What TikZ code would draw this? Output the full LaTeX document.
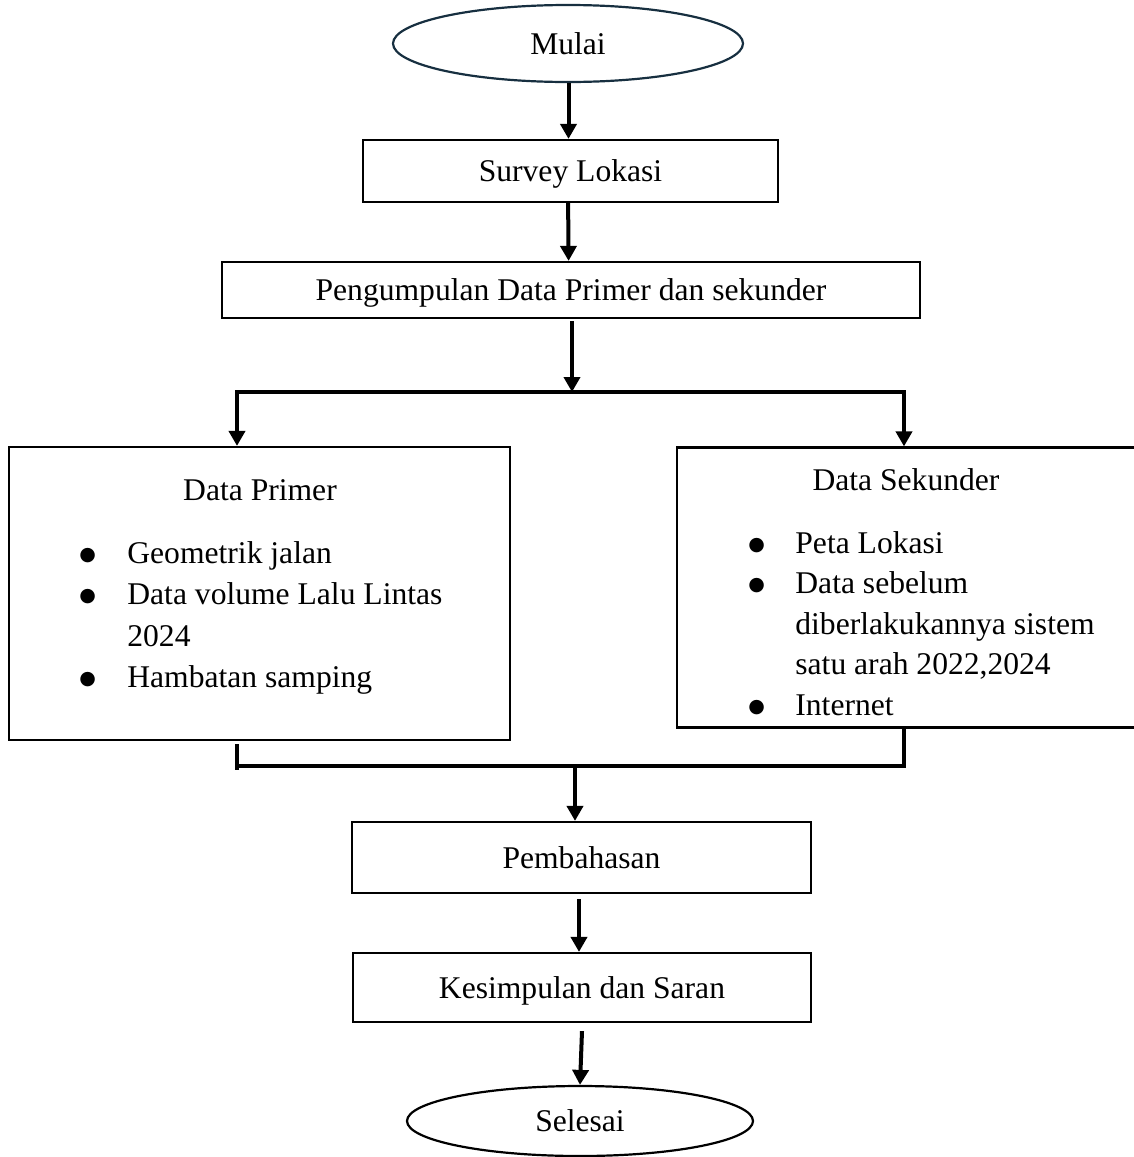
\documentclass[tikz,border=0pt]{standalone}
\usepackage{fontspec}
\setmainfont{Liberation Serif}
\newfontfamily\bulletfont{DejaVu Sans}
\usetikzlibrary{positioning,shapes,arrows.meta,calc}
\tikzstyle{process}=[rectangle, draw=black, line width=1.1pt, text centered, inner sep=0pt]
\tikzstyle{terminal}=[ellipse, draw=black, line width=1.1pt, inner sep=0pt]
\tikzstyle{boxtitle}=[inner sep=0pt, anchor=base]
\tikzstyle{itemlist}=[inner sep=0pt, anchor=base west]
\tikzstyle{myarrow}=[-{Triangle[width=8pt,length=7.5pt]}, line width=2pt]
\tikzstyle{myline}=[line width=2pt]
\definecolor{mulaiblue}{RGB}{23,47,64}
\newcommand{\listbullet}{\raisebox{1.5pt}{\bulletfont\fontsize{9.5}{11}\selectfont ●}}

\begin{document}
\begin{tikzpicture}[x=0.5pt, y=-0.5pt, font=\fontsize{15.8}{20.75}\selectfont]

        \useasboundingbox (0,0) rectangle (1134,1157);
        \clip (0,0) rectangle (1134,1157);

        \node (mulai) [terminal, draw=mulaiblue, minimum width=175pt, minimum height=38.5pt] at (568,43.5) {Mulai};
        \node (survey) [process, minimum width=207.5pt, minimum height=31pt, text depth=0pt] at (570.5,171) {Survey Lokasi};
        \node (pengumpulan) [process, minimum width=349pt, minimum height=28pt, text depth=0pt] at (571,290) {Pengumpulan Data Primer dan sekunder};

        % Data Primer
        \node (primer) [process, minimum width=250.5pt, minimum height=146.5pt] at (259.5,593.5) {};
        \node (primer_title) [boxtitle] at (260,500) {Data Primer};
        \node (primer_list) [itemlist] at (79,563) {\begin{tabular}[t]{@{}p{24pt}@{}l@{}}
            \listbullet & Geometrik jalan\\
            \listbullet & Data volume Lalu Lintas\\
                        & 2024\\
            \listbullet & Hambatan samping
        \end{tabular}};

        % Data Sekunder
        \node (sekunder) [process, minimum width=234pt, minimum height=140pt] at (911,587.5) {};
        \node (sekunder_title) [boxtitle] at (906,490) {Data Sekunder};
        \node (sekunder_list) [itemlist] at (748,553) {\fontsize{15.8}{20.3}\selectfont\begin{tabular}[t]{@{}p{23.5pt}@{}l@{}}
            \listbullet & Peta Lokasi\\
            \listbullet & Data sebelum\\
                        & diberlakukannya sistem\\
                        & satu arah 2022,2024\\
            \listbullet & Internet
        \end{tabular}};

        \node (pembahasan) [process, minimum width=229.5pt, minimum height=35.5pt, text depth=0pt] at (581.5,857.5) {Pembahasan};
        \node (kesimpulan) [process, minimum width=229pt, minimum height=34.5pt, text depth=0pt] at (582,987.5) {Kesimpulan dan Saran};
        \node (selesai) [terminal, minimum width=173pt, minimum height=35pt] at (580,1121) {Selesai};

        % split and join points
        \coordinate (split) at (572,392);
        \coordinate (split_l) at (237,392);
        \coordinate (split_r) at (904,392);
        \coordinate (join) at (575,766);
        \coordinate (join_l) at (237,766);
        \coordinate (join_r) at (904,766);

        %Arrows
        \draw[myarrow] (mulai.south -| survey.north) ++(-2,0) coordinate (m1) -- (m1 |- survey.north);
        \draw[myarrow] ([xshift=-1.2pt]survey.south) -- ([xshift=-1.2pt]pengumpulan.north);
        \draw[myarrow] ([yshift=-1pt]pengumpulan.south -| split) -- (split);

        \draw[myline, line cap=rect] (split_l) -- (split_r);
        \draw[myarrow] (split_l) -- (split_l |- primer.north);
        \draw[myarrow] (split_r) -- (split_r |- sekunder.north);

        %join Arrows
        \draw[myline] ([yshift=-1.5pt]primer.south -| join_l) -- ([yshift=-2pt]join_l);
        \draw[myline] (sekunder.south -| join_r) -- (join_r) -- (join_l);
        \draw[myarrow] (join) -- (join |- pembahasan.north);

        \draw[myarrow] ([yshift=-2.5pt]pembahasan.south -| 579,0) coordinate (p1) -- (p1 |- kesimpulan.north);
        \draw[myarrow] ([yshift=-4pt]kesimpulan.south) -- (selesai.north);

\end{tikzpicture}
\end{document}
